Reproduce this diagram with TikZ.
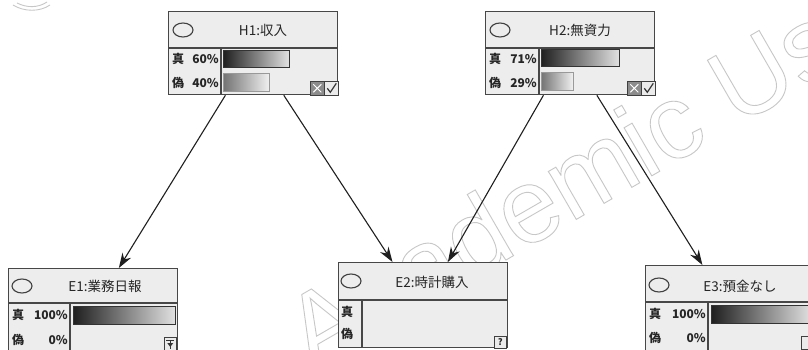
\documentclass[tikz,border=0pt]{standalone}
\usepackage{fontspec}
\newfontfamily\jp{Noto Sans CJK JP}
\newfontfamily\wmfont{Liberation Sans}
\usetikzlibrary{calc,arrows.meta}

\begin{document}
\begin{tikzpicture}[x=1pt,y=-1pt,
  box/.style={draw=black!72, fill=black!7, line width=1.3pt, minimum width=169pt, minimum height=83pt, inner sep=0pt, anchor=north west},
  ebox/.style={box, minimum height=85pt},
  sepline/.style={draw=black!72, line width=1.1pt},
  ring/.style={draw=black!75, line width=1.1pt},
  hdr/.style={font=\jp\fontsize{13.5}{13.5}\selectfont, text=black!85, inner sep=0pt},
  lbl/.style={font=\jp\bfseries\fontsize{12}{12}\selectfont, text=black!85, inner sep=0pt},
  barA/.style={draw=black!80, line width=1pt, left color=black!88, right color=black!12},
  barB/.style={draw=black!40, line width=1pt, left color=black!55, right color=black!6},
  icon/.style={draw=black!75, line width=0.8pt, fill=black!8},
  wmline/.style={draw=black!22, line width=0.9pt},
  arr/.style={draw=black!88, line width=1.1pt, -{Stealth[length=15pt, width=10pt]}}
]
\useasboundingbox (0,0) rectangle (808,350);
\clip (0,0) rectangle (808,350);
\fill[white] (0,0) rectangle (808,350);

% watermark (outlined text)
\node[rotate=30, anchor=base west, inner sep=0pt, text=black!22] (wm) at (312,372)
  {\wmfont\fontsize{105}{105}\selectfont\special{pdf:literal direct 1 Tr 0.9 w}Academic Use\special{pdf:literal direct 0 Tr}};
% fragment of a further watermark letter at the top-left corner
\draw[wmline] (13,5) .. controls (24,12) and (40,12) .. (50,5);
\draw[wmline] (17,3) .. controls (27,8) and (38,8) .. (47,2);

% ---------------- H1
\node[box] (h1) at (168,11) {};
\draw[sepline] ($(h1.north west)+(0,37)$) -- ($(h1.north east)+(0,37)$);
\draw[sepline] ($(h1.north west)+(53,37)$) -- ($(h1.south west)+(53,0)$);
\draw[ring] ($(h1.north west)+(15,19)$) ellipse [x radius=10, y radius=7];
\node[hdr] (h1t) at ($(h1.north west)+(95,19)$) {H1:収入};
\node[lbl, anchor=west] (h1a) at ($(h1.north west)+(4,48)$) {真};
\node[lbl, anchor=east] (h1b) at ($(h1.north west)+(51,48)$) {60\%};
\node[lbl, anchor=west] (h1c) at ($(h1.north west)+(4,72)$) {偽};
\node[lbl, anchor=east] (h1d) at ($(h1.north west)+(51,72)$) {40\%};
\draw[barA] ($(h1.north west)+(55,40)$) rectangle ++(66,17);
\draw[barB] ($(h1.north west)+(55,63)$) rectangle ++(46,18);
\draw[icon, fill=black!45] ($(h1.south east)+(-28,-14)$) rectangle ($(h1.south east)+(-14,0)$);
\draw[white, line width=1pt] ($(h1.south east)+(-25,-11)$) -- ($(h1.south east)+(-17,-3)$) ($(h1.south east)+(-25,-3)$) -- ($(h1.south east)+(-17,-11)$);
\draw[icon] ($(h1.south east)+(-14,-14)$) rectangle ($(h1.south east)+(0,0)$);
\draw[black!80, line width=1.2pt] ($(h1.south east)+(-11,-7)$) -- ($(h1.south east)+(-8,-3)$) -- ($(h1.south east)+(-2,-12)$);

% ---------------- H2
\node[box] (h2) at (485,11) {};
\draw[sepline] ($(h2.north west)+(0,37)$) -- ($(h2.north east)+(0,37)$);
\draw[sepline] ($(h2.north west)+(54,37)$) -- ($(h2.south west)+(54,0)$);
\draw[ring] ($(h2.north west)+(15,19)$) ellipse [x radius=10, y radius=7];
\node[hdr] (h2t) at ($(h2.north west)+(95,19)$) {H2:無資力};
\node[lbl, anchor=west] (h2a) at ($(h2.north west)+(4,48)$) {真};
\node[lbl, anchor=east] (h2b) at ($(h2.north west)+(52,48)$) {71\%};
\node[lbl, anchor=west] (h2c) at ($(h2.north west)+(4,72)$) {偽};
\node[lbl, anchor=east] (h2d) at ($(h2.north west)+(52,72)$) {29\%};
\draw[barA] ($(h2.north west)+(56,39)$) rectangle ++(78,17);
\draw[barB] ($(h2.north west)+(56,62)$) rectangle ++(32,18);
\draw[icon, fill=black!45] ($(h2.south east)+(-28,-14)$) rectangle ($(h2.south east)+(-14,0)$);
\draw[white, line width=1pt] ($(h2.south east)+(-25,-11)$) -- ($(h2.south east)+(-17,-3)$) ($(h2.south east)+(-25,-3)$) -- ($(h2.south east)+(-17,-11)$);
\draw[icon] ($(h2.south east)+(-14,-14)$) rectangle ($(h2.south east)+(0,0)$);
\draw[black!80, line width=1.2pt] ($(h2.south east)+(-11,-7)$) -- ($(h2.south east)+(-8,-3)$) -- ($(h2.south east)+(-2,-12)$);

% ---------------- E1
\node[ebox] (e1) at (8,268) {};
\draw[sepline] ($(e1.north west)+(0,35)$) -- ($(e1.north east)+(0,35)$);
\draw[sepline] ($(e1.north west)+(62,35)$) -- ($(e1.south west)+(62,0)$);
\draw[ring] ($(e1.north west)+(14,18)$) ellipse [x radius=10, y radius=7];
\node[hdr] (e1t) at ($(e1.north west)+(97,18)$) {E1:業務日報};
\node[lbl, anchor=west] (e1a) at ($(e1.north west)+(4,47)$) {真};
\node[lbl, anchor=east] (e1b) at ($(e1.north west)+(60,47)$) {100\%};
\node[lbl, anchor=west] (e1c) at ($(e1.north west)+(4,72)$) {偽};
\node[lbl, anchor=east] (e1d) at ($(e1.north west)+(60,72)$) {0\%};
\draw[barA] ($(e1.north west)+(65,38)$) rectangle ++(102,18);
\draw[icon] ($(e1.north east)+(-14,69)$) rectangle ($(e1.north east)+(-2,82)$);
\draw[black!80, line width=0.9pt] ($(e1.north east)+(-12,72)$) -- ($(e1.north east)+(-4,72)$) ($(e1.north east)+(-8,72)$) -- ($(e1.north east)+(-8,81)$);
\fill[black!80] ($(e1.north east)+(-11,75)$) -- ($(e1.north east)+(-5,75)$) -- ($(e1.north east)+(-8,79)$) -- cycle;

% ---------------- E2
\node[ebox] (e2) at (338,262) {};
\draw[sepline] ($(e2.north west)+(0,38)$) -- ($(e2.north east)+(0,38)$);
\draw[sepline] ($(e2.north west)+(24,38)$) -- ($(e2.south west)+(24,0)$);
\draw[ring] ($(e2.north west)+(13,19)$) ellipse [x radius=10, y radius=7];
\node[hdr] (e2t) at ($(e2.north west)+(94,20)$) {E2:時計購入};
\node[lbl, anchor=west] (e2a) at ($(e2.north west)+(3,50)$) {真};
\node[lbl, anchor=west] (e2c) at ($(e2.north west)+(3,72)$) {偽};
\draw[icon] ($(e2.south east)+(-14,-12)$) rectangle ($(e2.south east)+(-2,0)$);
\node[font=\jp\bfseries\fontsize{9}{9}\selectfont, inner sep=0pt, text=black!85] (e2q) at ($(e2.south east)+(-8,-6)$) {?};

% ---------------- E3
\node[ebox] (e3) at (645,265) {};
\draw[sepline] ($(e3.north west)+(0,37)$) -- ($(e3.north east)+(0,37)$);
\draw[sepline] ($(e3.north west)+(63,37)$) -- ($(e3.south west)+(63,0)$);
\draw[ring] ($(e3.north west)+(14,20)$) ellipse [x radius=10, y radius=7];
\node[hdr] (e3t) at ($(e3.north west)+(95,21)$) {E3:預金なし};
\node[lbl, anchor=west] (e3a) at ($(e3.north west)+(4,49)$) {真};
\node[lbl, anchor=east] (e3b) at ($(e3.north west)+(61,49)$) {100\%};
\node[lbl, anchor=west] (e3c) at ($(e3.north west)+(4,73)$) {偽};
\node[lbl, anchor=east] (e3d) at ($(e3.north west)+(61,73)$) {0\%};
\draw[barA] ($(e3.north west)+(66,40)$) rectangle ++(100,18);
\draw[icon] ($(e3.north east)+(-14,71)$) rectangle ($(e3.north east)+(-2,84)$);

% ---------------- connectors
\draw[arr] ($(h1.south west)!0.337!(h1.south east)$) -- ($(e1.north west)!0.651!(e1.north east)$);
\draw[arr] ($(h1.south west)!0.68!(h1.south east)$) -- ($(e2.north west)!0.32!(e2.north east)$);
\draw[arr] ($(h2.south west)!0.343!(h2.south east)$) -- ($(e2.north west)!0.645!(e2.north east)$);
\draw[arr] ($(h2.south west)!0.657!(h2.south east)$) -- ($(e3.north west)!0.337!(e3.north east)$);
\end{tikzpicture}
\end{document}
